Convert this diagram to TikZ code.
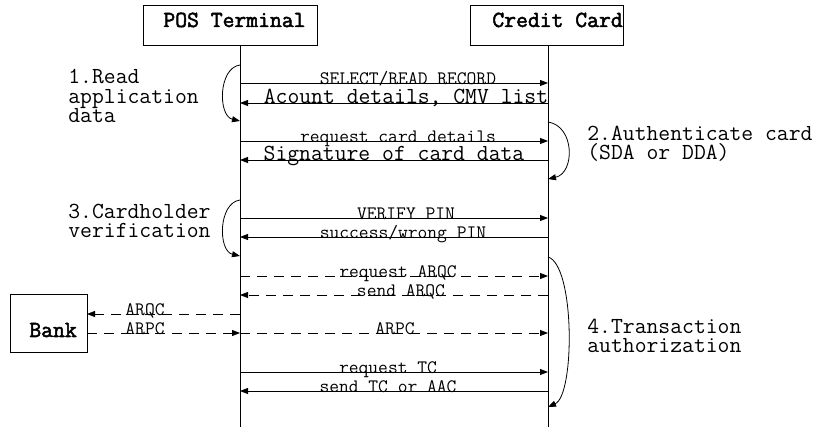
\documentclass[tikz,border=0pt]{standalone}
\usepackage{fontspec}
\newfontfamily\titlefont{Latin Modern Mono}[FakeBold=2.2]
\usetikzlibrary{arrows.meta}
\begin{document}
\begin{tikzpicture}[x=1pt,y=-1pt,line width=0.8pt,
  big/.style={font=\fontsize{23}{19.5}\selectfont\ttfamily},
  bigb/.style={font=\fontsize{23}{19.5}\selectfont\titlefont},
  small/.style={font=\fontsize{19}{18}\selectfont\ttfamily},
  actor/.style={draw,inner sep=0pt,minimum height=40pt},
  msg/.style={-{Triangle[length=8pt,width=6pt]}},
  dsh/.style={dash pattern=on 10pt off 7pt},
  lbl/.style={small,anchor=base,inner sep=0pt},
  lblbig/.style={big,anchor=base,inner sep=0pt},
  side/.style={big,anchor=base west,inner sep=0pt,align=left}]
\useasboundingbox (0,0) rectangle (820,427);
% actors
\node[actor,minimum width=174pt] (pos) at (230,25) {};
\node[actor,minimum width=153pt] (card) at (546.5,25) {};
\node[draw,inner sep=0pt,minimum width=77pt,minimum height=58pt] (bank) at (48.5,323) {};
\node[bigb,anchor=base west,inner sep=0pt] (post) at (163,27) {POS Terminal};
\node[bigb,anchor=base west,inner sep=0pt] (cardt) at (492,27) {Credit Card};
\node[bigb,anchor=base west,inner sep=0pt] (bankt) at (29,337) {Bank};
% lifelines
\coordinate (pl0) at (240,45); \coordinate (pl1) at (240,427);
\coordinate (cl0) at (548,45); \coordinate (cl1) at (548,427);
\draw (pl0) -- (pl1);
\draw (cl0) -- (cl1);
% message end points
\foreach \n/\y in {1/83,2/103,3/141,4/160,5/218,6/237,7/276,8/295,9/314,10/333,11/372,12/391}{
  \coordinate (p\n) at (240,\y);
  \coordinate (c\n) at (548,\y);
}
\coordinate (b9) at (87,314);
\coordinate (b10) at (87,333);
% messages
\draw[msg] (p1) -- (c1);
\draw[msg] (c2) -- (p2);
\draw[msg] (p3) -- (c3);
\draw[msg] (c4) -- (p4);
\draw[msg] (p5) -- (c5);
\draw[msg] (c6) -- (p6);
\draw[msg,dsh] (p7) -- (c7);
\draw[msg,dsh] (c8) -- (p8);
\draw[msg,dsh] (p9) -- (b9);
\draw[msg,dsh] (b10) -- (p10);
\draw[msg,dsh] (p10) -- (c10);
\draw[msg] (p11) -- (c11);
\draw[msg] (c12) -- (p12);
% labels
\node[lbl] at (408,85) {SELECT/READ RECORD};
\node[lblbig] at (406,104) {Acount details, CMV list};
\node[lbl] at (398,143) {request card details};
\node[lblbig] at (394,161) {Signature of card data};
\node[lbl] at (406,220) {VERIFY PIN};
\node[lbl] at (403,239) {success/wrong PIN};
\node[lbl] at (398,278) {request ARQC};
\node[lbl] at (401,297) {send ARQC};
\node[lbl] at (145,316) {ARQC};
\node[lbl] at (145,335) {ARPC};
\node[lbl] at (395,335) {ARPC};
\node[lbl] at (388,374) {request TC};
\node[lbl] at (388,393) {send TC or AAC};
% phase arcs
\coordinate (a1s) at (240,65); \coordinate (a1e) at (240,121);
\coordinate (a2s) at (548,122); \coordinate (a2e) at (548,179);
\coordinate (a3s) at (240,200); \coordinate (a3e) at (240,256);
\coordinate (a4s) at (548,257); \coordinate (a4e) at (548,407);
\draw[msg] (a1s) .. controls (218,68) and (218,116) .. (a1e);
\draw[msg] (a2s) .. controls (575,126) and (575,173) .. (a2e);
\draw[msg] (a3s) .. controls (218,203) and (218,251) .. (a3e);
\draw[msg] (a4s) .. controls (575,265) and (575,395) .. (a4e);
\node[side] at (68,123) {1.Read\\application\\data};
\node[side] at (587,160) {2.Authenticate card\\(SDA or DDA)};
\node[side] at (68,238) {3.Cardholder\\verification};
\node[side] at (587,353) {4.Transaction\\authorization};
\end{tikzpicture}
\end{document}
